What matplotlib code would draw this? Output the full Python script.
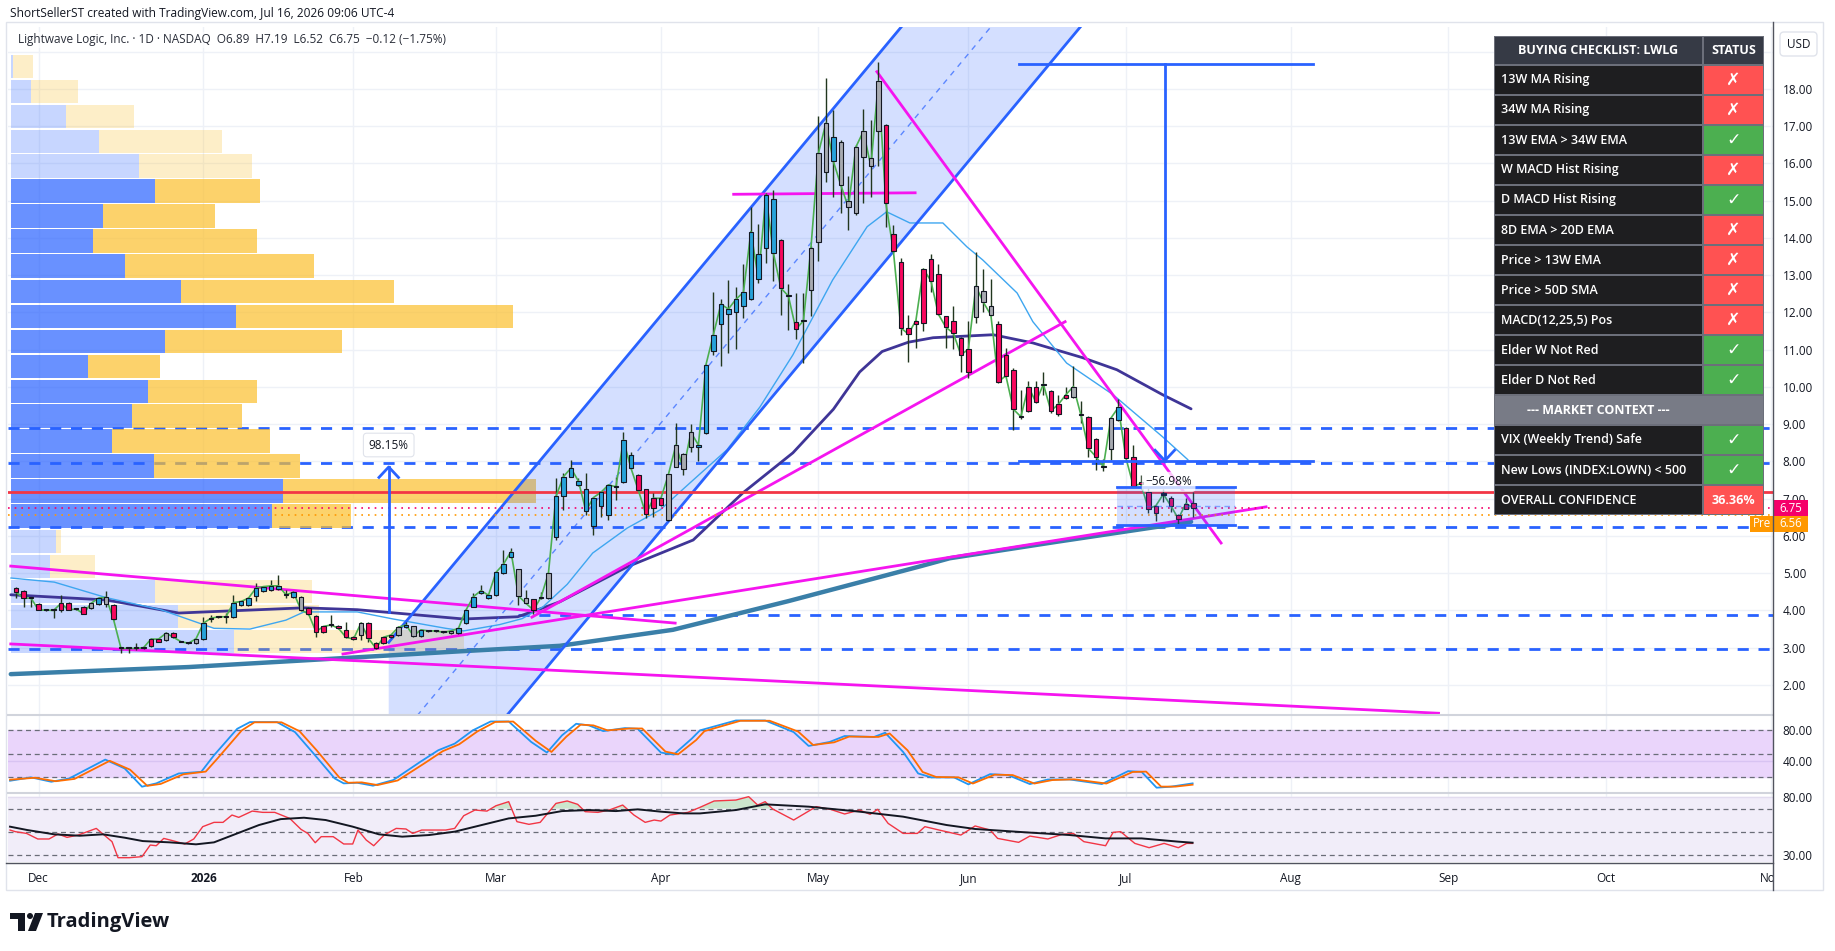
import matplotlib
matplotlib.use("Agg")
import matplotlib.pyplot as plt
from matplotlib.patches import Rectangle, FancyBboxPatch, Polygon, Circle
import numpy as np

W, H = 1835, 951
plt.rcParams['font.family'] = ['Open Sans', 'DejaVu Sans']

# ---------------- data ----------------
# bar index 0 = Dec 1 2025, first visible bar is three sessions earlier
bar_start = -3
opens = [4.60, 4.51, 4.34, 4.17, 4.02, 4.00, 4.01, 4.21, 4.04, 4.10,
         4.06, 4.17, 4.17, 4.15, 2.99, 2.98, 3.03, 3.00, 3.05, 3.16,
         3.21, 3.40, 3.17, 3.12, 3.12, 3.23, 3.78, 3.83, 3.83, 3.83,
         4.15, 4.15, 4.39, 4.51, 4.55, 4.57, 4.43, 4.35, 4.37, 4.06,
         3.85, 3.41, 3.61, 3.59, 3.48, 3.30, 3.34, 3.66, 3.12, 3.12,
         3.28, 3.34, 3.55, 3.57, 3.32, 3.45, 3.45, 3.41, 3.39, 3.40,
         3.66, 4.10, 4.46, 4.33, 4.41, 5.00, 5.43, 5.10, 4.33, 4.30,
         4.34, 4.33, 5.98, 7.06, 7.59, 7.37, 7.26, 6.27, 6.79, 6.56,
         7.33, 7.44, 8.17, 7.64, 7.25, 6.74, 6.83, 6.43, 7.86, 8.20,
         8.38, 8.38, 8.76, 10.97, 11.69, 11.95, 12.00, 12.18, 12.35, 13.56,
         13.74, 15.04, 13.95, 12.46, 11.74, 11.76, 12.60, 13.88, 15.78, 16.72,
         16.57, 14.98, 14.68, 16.18, 16.14, 16.86, 17.02, 14.10, 13.35, 11.58,
         11.68, 11.71, 13.43, 13.03, 11.89, 11.78, 11.31, 10.39, 11.87, 12.58,
         12.16, 11.68, 10.86, 10.45, 9.21, 9.34, 9.99, 10.06, 9.90, 9.27,
         9.70, 9.72, 9.26, 9.20, 8.60, 7.87, 8.33, 9.11, 8.91, 8.13,
         7.46, 7.19, 6.61, 7.11, 7.01, 6.56, 6.73, 6.89]
highs = [4.64, 4.55, 4.37, 4.19, 4.03, 4.02, 4.42, 4.23, 4.06, 4.12,
         4.21, 4.37, 4.51, 4.17, 3.03, 3.00, 3.12, 3.02, 3.25, 3.25,
         3.43, 3.42, 3.18, 3.14, 3.26, 3.83, 3.88, 3.85, 3.92, 4.42,
         4.26, 4.35, 4.73, 4.66, 4.82, 4.95, 4.55, 4.51, 4.40, 4.08,
         3.87, 3.59, 3.88, 3.61, 3.70, 3.32, 3.70, 3.68, 3.14, 3.30,
         3.36, 3.57, 3.70, 3.59, 3.50, 3.47, 3.47, 3.43, 3.47, 3.54,
         4.03, 4.46, 4.68, 4.43, 5.04, 5.62, 5.67, 5.12, 4.55, 4.32,
         4.50, 5.02, 7.55, 7.68, 8.04, 7.55, 7.68, 7.05, 7.19, 7.39,
         7.59, 8.80, 8.24, 7.66, 7.27, 7.14, 7.03, 7.67, 9.02, 8.22,
         9.01, 8.46, 10.61, 12.56, 12.35, 12.87, 12.69, 13.30, 14.84, 14.37,
         15.20, 15.29, 13.97, 12.76, 12.52, 12.52, 13.77, 17.26, 18.29, 17.44,
         16.63, 15.65, 16.50, 17.46, 17.17, 18.71, 17.05, 14.35, 13.46, 11.93,
         11.80, 13.18, 13.56, 13.30, 11.91, 12.18, 11.33, 11.76, 13.63, 13.16,
         12.89, 11.76, 11.04, 10.50, 9.92, 10.17, 10.17, 10.41, 9.92, 9.79,
         10.01, 10.56, 9.61, 9.22, 8.62, 8.06, 9.18, 9.67, 8.93, 8.44,
         7.64, 7.30, 6.83, 7.25, 7.07, 6.58, 7.01, 7.19]
lows = [4.33, 4.10, 4.10, 4.00, 3.99, 3.79, 3.97, 4.00, 4.02, 3.90,
        4.05, 4.15, 4.10, 3.74, 2.87, 2.85, 2.94, 2.97, 3.03, 3.14,
        3.19, 3.26, 3.14, 3.10, 3.10, 3.21, 3.70, 3.81, 3.67, 3.81,
        4.13, 4.13, 4.24, 4.49, 4.53, 4.55, 4.33, 4.33, 3.99, 3.89,
        3.30, 3.39, 3.55, 3.50, 3.26, 3.21, 3.21, 3.16, 2.96, 3.10,
        3.26, 3.32, 3.53, 3.30, 3.30, 3.43, 3.43, 3.39, 3.37, 3.38,
        3.64, 4.08, 4.44, 4.31, 4.39, 4.98, 5.41, 4.15, 4.17, 3.91,
        4.30, 4.31, 5.89, 6.70, 7.57, 7.35, 6.56, 6.03, 6.52, 6.43,
        6.97, 7.42, 7.80, 7.20, 6.47, 6.52, 6.81, 6.41, 7.84, 7.64,
        8.26, 8.01, 8.74, 10.86, 10.55, 10.92, 11.01, 11.84, 12.33, 12.78,
        13.32, 12.83, 11.94, 11.53, 11.28, 10.64, 11.89, 13.37, 15.51, 15.11,
        14.66, 14.22, 14.62, 14.93, 15.11, 15.92, 14.30, 13.60, 11.40, 10.68,
        11.04, 11.49, 12.56, 11.93, 11.04, 11.01, 10.41, 10.23, 11.71, 12.02,
        11.89, 10.10, 10.28, 8.85, 9.15, 9.32, 9.57, 9.79, 9.29, 9.22,
        9.68, 9.70, 9.02, 8.13, 7.77, 7.73, 8.04, 9.09, 8.08, 7.32,
        7.38, 6.61, 6.39, 6.92, 6.63, 6.32, 6.71, 6.52]
closes = [4.49, 4.33, 4.33, 4.01, 4.01, 4.00, 4.19, 4.01, 4.04, 3.91,
          4.19, 4.33, 4.35, 3.76, 2.98, 2.98, 2.98, 3.00, 3.23, 3.23,
          3.39, 3.28, 3.16, 3.12, 3.24, 3.66, 3.79, 3.83, 3.83, 4.21,
          4.24, 4.33, 4.60, 4.64, 4.66, 4.66, 4.42, 4.49, 4.01, 3.91,
          3.43, 3.57, 3.61, 3.52, 3.28, 3.23, 3.66, 3.25, 2.98, 3.28,
          3.34, 3.55, 3.61, 3.32, 3.48, 3.45, 3.45, 3.41, 3.45, 3.52,
          4.01, 4.37, 4.53, 4.41, 5.02, 5.24, 5.58, 4.39, 4.19, 4.01,
          4.35, 5.00, 7.06, 7.59, 7.82, 7.47, 6.67, 7.03, 7.17, 7.37,
          7.32, 8.57, 7.82, 7.22, 6.58, 7.01, 7.01, 7.65, 8.44, 7.79,
          8.78, 8.44, 10.59, 11.40, 12.22, 12.09, 12.35, 12.54, 14.17, 12.89,
          15.16, 13.59, 12.65, 12.44, 11.55, 11.77, 13.72, 16.27, 17.08, 16.05,
          15.41, 14.82, 16.44, 16.86, 15.92, 18.20, 14.93, 13.65, 11.58, 11.42,
          11.78, 13.16, 12.85, 11.95, 11.60, 11.44, 10.86, 11.01, 12.70, 12.27,
          11.93, 10.14, 10.30, 9.40, 9.20, 10.01, 9.59, 10.07, 9.36, 9.53,
          9.79, 10.01, 9.25, 8.35, 8.13, 7.86, 9.16, 9.45, 8.10, 7.34,
          7.40, 6.73, 6.81, 7.12, 6.81, 6.46, 6.87, 6.75]
# elder impulse colour of each bar: b = bullish, r = bearish, g = neutral, k = doji
impulse = ("rrkrkkrrkr" "gbgrkkrkrr" "grkkgbkkkb" "bbbbbbkbgr" "rrkrrrgrrr"
           "rgbgbkkkgb" "bbbbbbbggr" "kgbbbbbbbb" "kbbrrrrggg" "gbbbbbbbbb"
           "bbrkrkgggb" "ggggggrrrr" "rrrrrrrrgg" "grrrkrrkrr" "rgkrrkgbrr"
           "rrrkrrrr")

# moving averages as (bar, price)
ma_fast = [(-3.7, 4.87), (2.1, 4.76), (9.1, 4.34), (16.3, 4.02), (23.4, 3.52),
           (28.2, 3.50), (33.0, 3.74), (35.4, 3.96), (42.5, 3.96), (47.3, 3.77),
           (54.3, 3.52), (56.7, 3.45), (61.5, 3.62), (64.5, 3.78), (67.3, 4.10),
           (70.5, 4.70), (73.9, 5.54), (78.5, 6.21), (82.9, 6.70), (87.3, 7.50),
           (91.8, 8.31), (96.2, 9.46), (100.6, 10.86), (105.9, 12.87), (110.5, 14.30),
           (113.1, 14.70), (116.2, 14.40), (120.6, 14.40), (123.8, 13.76), (125.9, 13.41),
           (130.5, 12.52), (132.6, 11.75), (137.1, 10.64), (143.3, 9.79), (149.9, 8.66),
           (153.3, 8.04)]
ma_mid = [(-3.7, 4.42), (9.1, 4.28), (18.7, 3.93), (35.4, 4.07), (42.5, 4.02),
          (56.7, 3.77), (63.9, 3.83), (67.3, 4.07), (69.5, 4.23), (78.5, 5.17),
          (87.3, 5.89), (93.9, 7.15), (100.6, 8.23), (106.0, 9.40), (109.5, 10.40),
          (112.5, 10.95), (116.0, 11.20), (119.3, 11.32), (127.3, 11.40), (132.6, 11.18),
          (139.3, 10.78), (143.8, 10.46), (149.9, 9.79), (153.7, 9.41)]
ma_slow = [(-3.7, 2.29), (20.0, 2.48), (40.6, 2.72), (56.0, 2.90), (69.5, 3.05),
           (84.6, 3.48), (100.0, 4.25), (117.5, 5.18), (121.5, 5.40), (135.7, 5.84),
           (153.7, 6.38)]

# stochastic RSI (bar, value)
stoch_k = [(-3.8, 14.6), (-1.0, 19), (1.7, 13.3), (4.1, 17.6), (8.9, 42.1), (11.5, 30.5),
           (13.8, 6.9), (15.7, 11.2), (18.7, 24.1), (21.7, 26.2), (23.4, 47.7), (26.5, 82.1),
           (28.2, 90.8), (31.8, 90.8), (34.2, 77.8), (36.5, 52), (39.5, 17.6), (40.7, 11.2),
           (42.5, 12), (44.6, 8.2), (47.3, 15.5), (50.9, 39.1), (53.3, 54.2), (55.5, 62.8),
           (57.9, 80), (60.3, 91.6), (62.7, 91.6), (65.7, 65), (67.8, 51.2), (69.8, 73.5),
           (71.7, 88.6), (73.4, 86.5), (75.3, 79.1), (78.2, 83), (79.9, 82.1), (83.0, 51.2),
           (84.7, 48.6), (87.1, 69.2), (88.2, 80), (93.0, 92.9), (96.9, 92.9), (100.7, 77.8),
           (102.7, 59.8), (105.5, 65), (107.5, 72.7), (111.4, 71.4), (112.9, 77), (115.3, 52),
           (117.3, 24.1), (119.1, 18.9), (122.1, 18.9), (124.0, 9.9), (126.9, 23.2),
           (129.3, 22), (132.2, 10.3), (134.6, 16.3), (137.5, 16.3), (141.8, 10.3),
           (145.3, 27.1), (147.1, 26.2), (149.1, 5.6), (151.0, 6.9), (153.9, 11.2)]
stoch_d = [(-3.8, 16), (-0.5, 18.5), (2.3, 14), (4.8, 17), (9.5, 40.5), (12.2, 29),
           (14.5, 8), (16.3, 10.5), (19.3, 23), (22.3, 26.5), (24.0, 45), (27.1, 80),
           (28.8, 90.5), (32.4, 90.5), (34.8, 79), (37.1, 54), (40.1, 19), (41.3, 12),
           (43.1, 12.5), (45.2, 9), (47.9, 15), (51.5, 37.5), (53.9, 53), (56.1, 62),
           (58.5, 78.5), (60.9, 91), (63.3, 91.5), (66.3, 66.5), (68.4, 52), (70.4, 72),
           (72.3, 87.5), (74.0, 86.5), (75.9, 80), (78.8, 82.5), (80.5, 82.5), (83.6, 52.5),
           (85.3, 49), (87.7, 67.5), (88.8, 79), (93.6, 92.5), (97.5, 92.5), (101.3, 78.5),
           (103.3, 61), (106.1, 64.5), (108.1, 72), (112.0, 71.5), (113.5, 76), (115.9, 54),
           (117.9, 26), (119.7, 19.5), (122.7, 19), (124.6, 11), (127.5, 22.5), (129.9, 22),
           (132.8, 11), (135.2, 15.5), (138.1, 16.5), (142.4, 11), (145.9, 26), (147.7, 26.5),
           (149.7, 7), (151.6, 7), (153.9, 9.5)]

# RSI and its moving average (bar, value)
rsi = [(-3.8, 51.5), (-3.1, 50.1), (-1.6, 48.6), (-0.1, 43.8), (1.4, 43.8), (2.6, 48.1),
       (3.8, 45.2), (5.3, 47.2), (7.7, 52.9), (9.8, 41.5), (10.6, 27.7), (12.1, 27.7),
       (13.8, 28.6), (14.9, 38.6), (15.7, 38.0), (16.7, 44.3), (18.1, 42.0), (19.5, 39.5),
       (20.7, 43.8), (21.9, 54.4), (23.4, 58.1), (24.6, 58.1), (25.8, 64.4), (26.7, 62.4),
       (28.5, 67.8), (29.9, 66.7), (31.5, 66.7), (33.5, 61.5), (35.0, 52.1), (35.9, 48.6),
       (36.9, 40.6), (37.7, 45.8), (39.3, 45.8), (40.7, 39.5), (41.9, 39.5), (42.6, 51.5),
       (43.7, 42.9), (44.7, 38.0), (46.1, 47.2), (47.7, 52.9), (49.0, 52.4), (49.9, 48.6),
       (51.1, 51.5), (54.3, 51.5), (55.5, 52.9), (56.7, 63.8), (58.2, 68.7), (59.8, 67.8),
       (61.0, 72.4), (62.7, 75.9), (63.8, 58.7), (65.4, 56.4), (66.9, 58.1), (69.0, 74.4),
       (70.5, 76.5), (71.9, 73.6), (72.9, 67.3), (74.6, 66.7), (76.1, 68.7), (77.9, 73.0),
       (79.4, 64.4), (80.9, 58.1), (82.1, 60.1), (83.0, 59.2), (84.2, 64.4), (86.6, 66.7),
       (88.2, 71.0), (90.1, 76.5), (93.0, 77.3), (94.7, 80.2), (95.9, 73.0), (96.9, 75.9),
       (97.9, 69.6), (100.7, 60.1), (103.7, 71.6), (105.6, 69.3), (107.5, 65.3),
       (109.5, 68.7), (110.9, 65.0), (111.9, 69.3), (113.3, 57.2), (115.3, 48.6),
       (117.2, 48.6), (118.2, 54.4), (120.1, 51.5), (123.0, 47.2), (124.9, 55.0),
       (126.9, 51.5), (127.9, 44.3), (130.7, 40.9), (132.2, 46.3), (134.6, 43.8),
       (136.5, 47.8), (138.0, 48.6), (139.4, 41.5), (142.3, 38.0), (143.3, 49.5),
       (144.3, 50.1), (146.2, 40.0), (148.1, 36.3), (150.1, 40.0), (152.0, 36.3),
       (153.1, 40.0), (153.9, 40.0)]
rsi_ma = [(-3.8, 54.4), (-1.5, 51.5), (2.1, 47.8), (5.5, 46.6), (8.6, 47.8), (11.5, 44.9),
          (13.9, 42.0), (17.5, 40.9), (21.0, 39.2), (23.4, 40.9), (26.5, 48.6), (29.4, 55.8),
          (32.3, 60.9), (35.4, 62.1), (38.3, 60.1), (41.9, 54.4), (45.4, 47.8), (48.5, 45.8),
          (52.1, 47.2), (55.5, 50.1), (59.1, 55.8), (62.7, 61.5), (66.3, 63.8), (69.8, 67.8),
          (73.4, 68.7), (77.0, 67.8), (79.9, 69.3), (83.0, 67.3), (86.0, 65.8), (88.2, 65.8),
          (93.0, 68.7), (96.9, 73.6), (102.7, 71.6), (109.5, 67.3), (115.3, 63.0),
          (121.1, 55.8), (124.9, 52.4), (131.7, 49.5), (137.5, 47.2), (142.3, 44.3),
          (147.1, 44.3), (152.0, 41.5), (153.9, 40.6)]

# visible-range volume profile: row centre price, up / down volume (bar widths)
vp_price = [18.60, 17.93, 17.26, 16.59, 15.92, 15.25, 14.58, 13.91, 13.24, 12.56,
            11.89, 11.22, 10.55, 9.88, 9.21, 8.54, 7.87, 7.20, 6.53, 5.85,
            5.18, 4.51, 3.84, 3.17]
vp_up = [2.0, 20.3, 55.3, 88.3, 128.3, 144.3, 92.3, 82.3, 114.3, 170.3,
         225.3, 154.3, 77.3, 137.0, 121.0, 101.3, 143.3, 272.0, 261.0, 45.3,
         39.3, 144.3, 166.8, 223.3]
vp_down = [20.0, 46.7, 67.7, 122.7, 112.7, 104.7, 111.7, 163.7, 188.7, 212.7,
           276.7, 176.7, 71.7, 109.0, 110.0, 157.7, 145.7, 253.3, 79.0, 4.7,
           44.6, 156.8, 141.5, 229.6]
vp_in_value_area = [False] * 5 + [True] * 14 + [False] * 5

# horizontal levels and drawings
dashed_levels = [8.91, 7.97, 6.25, 3.88, 2.96]
dashed_start = [-4.07, -4.07, -4.07, 63.9, -4.07]
red_level = 7.19
last_price = 6.75
pre_price = 6.56
channel_upper = [(46.7, 3.145), (140.0, 25.69)]
channel_height = 5.77
pink_lines = [[(92.7, 15.17), (116.9, 15.21)],
              [(111.8, 18.46), (157.7, 5.81)],
              [(65.8, 3.82), (136.9, 11.75)],
              [(40.6, 2.83), (163.7, 6.78)],
              [(-3.7, 5.19), (84.9, 3.66)],
              [(-3.7, 3.10), (186.7, 1.24)]]
rise_arrow = (46.7, 3.96, 7.85)          # bar, from, to  (98.15 %)
drop_range = (130.7, 169.9, 150.2, 18.67, 8.02)
box_range = (143.8, 159.6, 6.28, 7.32)

month_idx = [0, 22, 42, 61, 83, 104, 124, 145, 167, 188, 209, 231]
month_lbl = ['Dec', '2026', 'Feb', 'Mar', 'Apr', 'May', 'Jun', 'Jul', 'Aug', 'Sep', 'Oct', 'Nov']

checklist = ['13W MA Rising', '34W MA Rising', '13W EMA > 34W EMA', 'W MACD Hist Rising',
             'D MACD Hist Rising', '8D EMA > 20D EMA', 'Price > 13W EMA', 'Price > 50D SMA',
             'MACD(12,25,5) Pos', 'Elder W Not Red', 'Elder D Not Red',
             '--- MARKET CONTEXT ---', 'VIX (Weekly Trend) Safe',
             'New Lows (INDEX:LOWN) < 500', 'OVERALL CONFIDENCE']
passed = [False, False, True, False, True, False, False, False, False, True, True,
          None, True, True, None]
confidence = '36.36%'

# ---------------- figure ----------------
fig = plt.figure(figsize=(W / 100, H / 100), dpi=100)
fig.patch.set_facecolor('white')


def px_axes(x0, y0, x1, y1):
    return fig.add_axes([x0 / W, 1 - y1 / H, (x1 - x0) / W, (y1 - y0) / H])


ax = px_axes(8, 27, 1773, 714)
ax_st = px_axes(8, 715, 1773, 792)
ax_rsi = px_axes(8, 794, 1773, 862)
grid_c = '#eef1f7'
for a in (ax, ax_st, ax_rsi):
    a.set_xlim(-4.07, 231.3)
    for s in a.spines.values():
        s.set_visible(False)
    a.yaxis.tick_right()
    a.tick_params(length=0, labelsize=8.5, labelcolor='#131722', pad=7)
    a.set_xticks([])
    for m in month_idx:
        a.axvline(m, color=grid_c, lw=1, zorder=0)

# ---- main price pane ----
ax.set_ylim(1.22, 19.66)
ax.set_yticks(range(2, 19))
ax.set_yticklabels([f'{v:.2f}' for v in range(2, 19)])
for v in range(2, 20):
    ax.axhline(v, color=grid_c, lw=1, zorder=0)

for lvl, x0 in zip(dashed_levels, dashed_start):
    ax.plot([x0, 231.3], [lvl, lvl], color='#2962ff', lw=2, ls=(0, (4, 3.5)), zorder=0.8)

# volume profile
row_h = 0.636
for p, up, dn, va in zip(vp_price, vp_up, vp_down, vp_in_value_area):
    al = 0.7 if va else 0.26
    ax.barh(p, up / 7.5, height=row_h, left=-3.7, color='#2962ff', alpha=al, lw=0, zorder=1)
    ax.barh(p, dn / 7.5, height=row_h, left=-3.7 + up / 7.5, color='#fbc02d', alpha=al, lw=0, zorder=1)

# parallel channel
(cx0, cy0), (cx1, cy1) = channel_upper
ax.add_patch(Polygon([(cx0, cy0), (cx1, cy1), (cx1, cy1 - channel_height), (cx0, cy0 - channel_height)],
                     closed=True, facecolor='#2962ff', alpha=0.2, lw=0, zorder=1.2))
ax.plot([cx0, cx1], [cy0, cy1], color='#2962ff', lw=2, zorder=2.4)
ax.plot([cx0, cx1], [cy0 - channel_height, cy1 - channel_height], color='#2962ff', lw=2, zorder=2.4)
ax.plot([cx0, cx1], [cy0 - channel_height / 2, cy1 - channel_height / 2],
        color='#2962ff', lw=1, ls=(0, (4, 4)), alpha=0.7, zorder=2.4)

# moving averages
for pts, col, lw in ((ma_slow, '#3a7fa8', 3.2), (ma_mid, '#3f3597', 2.0), (ma_fast, '#3ea6f0', 1.0)):
    xs, ys = zip(*pts)
    ax.plot(xs, ys, color=col, lw=lw, zorder=2, solid_capstyle='round')

for seg in pink_lines:
    xs, ys = zip(*seg)
    ax.plot(xs, ys, color='#f515ef', lw=2, zorder=2.6)

ax.axhline(red_level, color='#f23645', lw=2, zorder=2.7)
ax.axhline(last_price, color='#f5006a', lw=1.2, ls=(0, (1, 3)), zorder=2.7)
ax.axhline(pre_price, color='#ff9800', lw=1.2, ls=(0, (1, 3)), zorder=2.7)

# candles
idx = np.arange(bar_start, bar_start + len(opens))
o, h, l, c = map(np.array, (opens, highs, lows, closes))
colmap = {'b': '#27a2da', 'r': '#f8085e', 'g': '#a8abb1', 'k': '#131722'}
ax.vlines(idx, l, h, color='#21361e', lw=1, zorder=3)
ax.plot(idx, c, color='#4caf50', lw=1.2, zorder=3.5)
ax.bar(idx, np.maximum(np.abs(c - o), 0.03), 0.62, bottom=np.minimum(o, c),
       color=[colmap[k] for k in impulse], edgecolor='#131722', lw=0.8, zorder=4)

# 98.15 % arrow
bx, y0, y1 = rise_arrow
ax.plot([bx, bx], [y0, y1], color='#2962ff', lw=2, zorder=5)
ax.plot([bx - 1.3, bx, bx + 1.3], [y1 - 0.28, y1, y1 - 0.28], color='#2962ff', lw=2, zorder=5)
ax.text(bx, 8.44, '98.15%', ha='center', va='center', fontsize=8.5, color='#131722', zorder=6,
        bbox=dict(boxstyle='round,pad=0.45,rounding_size=0.3', fc='white', ec='#e0e3eb', lw=0.8))

# price range of the fall
rx0, rx1, rxm, top, bot = drop_range
for lvl in (top, bot):
    ax.plot([rx0, rx1], [lvl, lvl], color='#2962ff', lw=2, zorder=5)
ax.plot([rxm, rxm], [top, bot], color='#2962ff', lw=2, zorder=5)
ax.plot([rxm - 1.3, rxm, rxm + 1.3], [bot + 0.28, bot, bot + 0.28], color='#2962ff', lw=2, zorder=5)
ax.text(150.7, 7.45, '\u221256.98%', ha='center', va='center', fontsize=8.5, color='#131722', zorder=6,
        bbox=dict(boxstyle='round,pad=0.3,rounding_size=0.3', fc='white', ec='none', alpha=0.75))

# small box around the last bars
qx0, qx1, qlo, qhi = box_range
ax.add_patch(Rectangle((qx0, qlo), qx1 - qx0, qhi - qlo, facecolor='#2962ff', alpha=0.2, lw=0, zorder=4.5))
for lvl in (qlo, qhi):
    ax.plot([qx0, qx1], [lvl, lvl], color='#2962ff', lw=2, zorder=5)
ax.plot([qx0, qx1], [(qlo + qhi) / 2] * 2, color='#2962ff', lw=1, ls=(0, (4, 3)), alpha=0.5, zorder=5)

# ---- stochastic RSI pane ----
ax_st.set_ylim(0, 100)
ax_st.axhspan(20, 80, color='#ead5fb', zorder=0.2)
ax_st.axhline(40, color='#d8c3f2', lw=1, zorder=0.3)
for lvl in (80, 50, 20):
    ax_st.axhline(lvl, color='#6a6d78', lw=0.9, ls=(0, (4, 3)), zorder=0.5)
for pts, col in ((stoch_k, '#2196f3'), (stoch_d, '#ff6d00')):
    xs, ys = zip(*pts)
    ax_st.plot(xs, ys, color=col, lw=1.3, zorder=2)
ax_st.set_yticks([80, 40])
ax_st.set_yticklabels(['80.00', '40.00'])

# ---- RSI pane ----
ax_rsi.set_ylim(24, 82.5)
ax_rsi.axhspan(24, 80, color='#f1edf9', zorder=0.2)
ax_rsi.axhline(80, color='#e2dcef', lw=1, zorder=0.3)
for lvl in (70, 50, 30):
    ax_rsi.axhline(lvl, color='#6a6d78', lw=0.9, ls=(0, (4, 3)), zorder=0.5)
rx, rv = map(np.array, zip(*rsi))
ax_rsi.fill_between(rx, rv, 70, where=rv > 70, interpolate=True, color='#c8e6c9', alpha=0.9, lw=0, zorder=1)
ax_rsi.plot(rx, rv, color='#f23645', lw=1, zorder=2)
mx, mv = zip(*rsi_ma)
ax_rsi.plot(mx, mv, color='#131722', lw=1.4, zorder=2.5)
ax_rsi.set_yticks([80, 30])
ax_rsi.set_yticklabels(['80.00', '30.00'])
ax_rsi.set_xticks(month_idx)
ax_rsi.set_xticklabels(month_lbl)
ax_rsi.tick_params(axis='x', length=0, pad=7, labelsize=8.5, labelcolor='#131722')
ax_rsi.get_xticklabels()[1].set_fontweight('bold')

# ---------------- overlay in pixel coordinates ----------------
ov = fig.add_axes([0, 0, 1, 1], zorder=10)
ov.set_xlim(0, W)
ov.set_ylim(H, 0)
ov.axis('off')


def price_px(p):
    return H - ax.transData.transform((0, p))[1]


ov.add_patch(Rectangle((1774, 862), 50, 27, facecolor='white', lw=0))
ov.add_patch(Rectangle((6, 22), 1817, 868, fill=False, ec='#e0e3eb', lw=1))
ov.plot([8, 1773], [714.5, 714.5], color='#d1d4dc', lw=1.5)
ov.plot([8, 1773], [793, 793], color='#d1d4dc', lw=1.5)
ov.plot([6, 1773], [862.5, 862.5], color='#50535e', lw=1)
ov.plot([1773, 1773], [22, 890], color='#50535e', lw=1)

ov.text(10, 13, 'ShortSellerST created with TradingView.com, Jul 16, 2026 09:06 UTC-4',
        fontsize=8.6, color='#131722', va='center')
ov.text(18, 40, 'Lightwave Logic, Inc. \u00b7 1D \u00b7 NASDAQ  O6.89  H7.19  L6.52  C6.75  '
        '\u22120.12 (\u22121.75%)', fontsize=8.5, color='#2a2e39', va='center', zorder=12,
        bbox=dict(boxstyle='square,pad=0.1', fc='white', ec='none', alpha=0.6))

ov.add_patch(FancyBboxPatch((1780, 32), 37, 24, boxstyle='round,pad=0,rounding_size=4',
                            fc='white', ec='#e0e3eb', lw=1))
ov.text(1798.5, 44, 'USD', ha='center', va='center', fontsize=8.5, color='#131722')

# last price / pre-market labels
yl = price_px(last_price)
ov.add_patch(Rectangle((1774, yl - 8), 34, 16, facecolor='#f5006a', lw=0))
ov.text(1791, yl + 1, f'{last_price:.2f}', ha='center', va='center', fontsize=8.3, color='white')
yp = yl + 16
ov.add_patch(Rectangle((1774, yp - 8), 34, 16, facecolor='#ff9800', lw=0))
ov.add_patch(Rectangle((1750, yp - 8), 23, 16, facecolor='#ff9800', lw=0))
ov.text(1791, yp, f'{pre_price:.2f}', ha='center', va='center', fontsize=8.3, color='white')
ov.text(1761.5, yp, 'Pre', ha='center', va='center', fontsize=8.3, color='white')

# checklist table
tx0, tsplit, tx1 = 1494, 1703, 1764
ty0, head_h, row_h_px = 36, 29, 30
n_rows = len(checklist)
ov.add_patch(Rectangle((tx0, ty0), tx1 - tx0, head_h + n_rows * row_h_px, facecolor='#6c6f7a', lw=0))
g = 1.2
ov.add_patch(Rectangle((tx0 + g, ty0 + g), tsplit - tx0 - 2 * g, head_h - 2 * g, facecolor='#363a45', lw=0))
ov.add_patch(Rectangle((tsplit + g, ty0 + g), tx1 - tsplit - 2 * g, head_h - 2 * g, facecolor='#363a45', lw=0))
ov.text((tx0 + tsplit) / 2, ty0 + head_h / 2, 'BUYING CHECKLIST: LWLG', ha='center', va='center',
        fontsize=9, color='white', fontweight='bold')
ov.text((tsplit + tx1) / 2, ty0 + head_h / 2, 'STATUS', ha='center', va='center',
        fontsize=9, color='white', fontweight='bold')
for k, (name, ok) in enumerate(zip(checklist, passed)):
    ry = ty0 + head_h + k * row_h_px
    cy = ry + row_h_px / 2
    if name.startswith('---'):
        ov.add_patch(Rectangle((tx0 + g, ry + g), tx1 - tx0 - 2 * g, row_h_px - 2 * g,
                               facecolor='#787b86', lw=0))
        ov.text((tx0 + tsplit) / 2, cy, name, ha='center', va='center', fontsize=9,
                color='white', fontweight='bold')
        continue
    ov.add_patch(Rectangle((tx0 + g, ry + g), tsplit - tx0 - 2 * g, row_h_px - 2 * g,
                           facecolor='#1e1e20', lw=0))
    ov.text(tx0 + 7, cy, name, ha='left', va='center', fontsize=9, color='white',
            fontweight='semibold')
    if ok is None:
        cell_c, mark = '#ff5252', confidence
    else:
        cell_c, mark = ('#4caf50', '\u2713') if ok else ('#ff5252', '\u2717')
    ov.add_patch(Rectangle((tsplit + g, ry + g), tx1 - tsplit - 2 * g, row_h_px - 2 * g,
                           facecolor=cell_c, lw=0))
    ov.text((tsplit + tx1) / 2, cy, mark, ha='center', va='center',
            fontsize=9 if ok is None else 12.5, color='white', fontweight='bold')

# TradingView wordmark
ov.add_patch(Rectangle((10, 913), 15, 6, facecolor='#131722', lw=0))
ov.add_patch(Rectangle((18, 913), 7, 18, facecolor='#131722', lw=0))
ov.add_patch(Circle((30, 916), 3, facecolor='#131722', lw=0))
ov.add_patch(Polygon([(35, 913), (43, 913), (36, 931), (28, 931)], closed=True, facecolor='#131722', lw=0))
ov.text(47, 922, 'TradingView', fontsize=14.5, fontweight='bold', color='#131722', va='center')

fig.savefig('out.png', dpi=100, facecolor='white')
